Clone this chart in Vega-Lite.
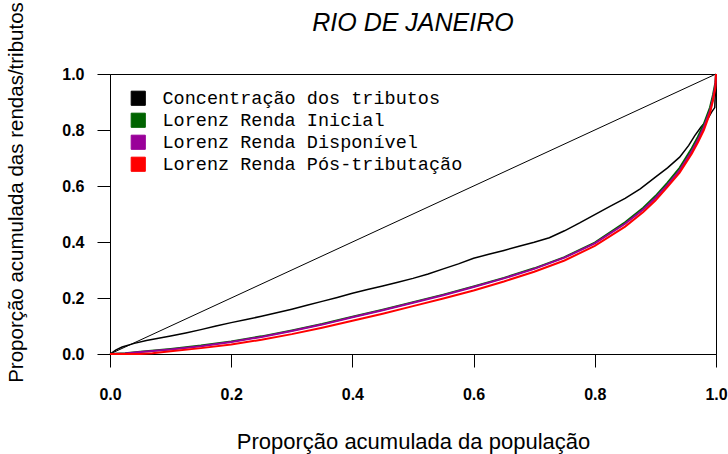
{
  "$schema": "https://vega.github.io/schema/vega-lite/v6.json",
  "width": 606,
  "height": 280,
  "autosize": {"type": "none"},
  "padding": {"left": 110, "top": 74, "right": 12, "bottom": 100},
  "background": "white",
  "config": {
    "view": {"stroke": "black", "strokeWidth": 1},
    "axis": {"grid": false}
  },
  "title": {
    "text": "RIO DE JANEIRO",
    "font": "Liberation Sans",
    "fontSize": 25,
    "fontStyle": "italic",
    "fontWeight": "normal",
    "color": "black",
    "frame": "group",
    "anchor": "middle",
    "offset": -34
  },
  "data": {
    "values": [
      {"serie": "Concentração dos tributos", "p": 0, "v": 0},
      {"serie": "Concentração dos tributos", "p": 0.01, "v": 0.015},
      {"serie": "Concentração dos tributos", "p": 0.02, "v": 0.025},
      {"serie": "Concentração dos tributos", "p": 0.04, "v": 0.038},
      {"serie": "Concentração dos tributos", "p": 0.06, "v": 0.048},
      {"serie": "Concentração dos tributos", "p": 0.08, "v": 0.056},
      {"serie": "Concentração dos tributos", "p": 0.1, "v": 0.064},
      {"serie": "Concentração dos tributos", "p": 0.125, "v": 0.075},
      {"serie": "Concentração dos tributos", "p": 0.15, "v": 0.087},
      {"serie": "Concentração dos tributos", "p": 0.175, "v": 0.1},
      {"serie": "Concentração dos tributos", "p": 0.2, "v": 0.112},
      {"serie": "Concentração dos tributos", "p": 0.225, "v": 0.123},
      {"serie": "Concentração dos tributos", "p": 0.25, "v": 0.135},
      {"serie": "Concentração dos tributos", "p": 0.275, "v": 0.147},
      {"serie": "Concentração dos tributos", "p": 0.3, "v": 0.16},
      {"serie": "Concentração dos tributos", "p": 0.325, "v": 0.174},
      {"serie": "Concentração dos tributos", "p": 0.35, "v": 0.188},
      {"serie": "Concentração dos tributos", "p": 0.375, "v": 0.202},
      {"serie": "Concentração dos tributos", "p": 0.4, "v": 0.217},
      {"serie": "Concentração dos tributos", "p": 0.425, "v": 0.23},
      {"serie": "Concentração dos tributos", "p": 0.45, "v": 0.243},
      {"serie": "Concentração dos tributos", "p": 0.475, "v": 0.256},
      {"serie": "Concentração dos tributos", "p": 0.5, "v": 0.27},
      {"serie": "Concentração dos tributos", "p": 0.525, "v": 0.286},
      {"serie": "Concentração dos tributos", "p": 0.55, "v": 0.304},
      {"serie": "Concentração dos tributos", "p": 0.575, "v": 0.322},
      {"serie": "Concentração dos tributos", "p": 0.6, "v": 0.342},
      {"serie": "Concentração dos tributos", "p": 0.625, "v": 0.356},
      {"serie": "Concentração dos tributos", "p": 0.65, "v": 0.37},
      {"serie": "Concentração dos tributos", "p": 0.675, "v": 0.385},
      {"serie": "Concentração dos tributos", "p": 0.7, "v": 0.399},
      {"serie": "Concentração dos tributos", "p": 0.725, "v": 0.415},
      {"serie": "Concentração dos tributos", "p": 0.75, "v": 0.44},
      {"serie": "Concentração dos tributos", "p": 0.775, "v": 0.468},
      {"serie": "Concentração dos tributos", "p": 0.8, "v": 0.498},
      {"serie": "Concentração dos tributos", "p": 0.825, "v": 0.527},
      {"serie": "Concentração dos tributos", "p": 0.85, "v": 0.556},
      {"serie": "Concentração dos tributos", "p": 0.875, "v": 0.59},
      {"serie": "Concentração dos tributos", "p": 0.9, "v": 0.632},
      {"serie": "Concentração dos tributos", "p": 0.92, "v": 0.665},
      {"serie": "Concentração dos tributos", "p": 0.94, "v": 0.703},
      {"serie": "Concentração dos tributos", "p": 0.955, "v": 0.745},
      {"serie": "Concentração dos tributos", "p": 0.965, "v": 0.78},
      {"serie": "Concentração dos tributos", "p": 0.975, "v": 0.81},
      {"serie": "Concentração dos tributos", "p": 0.985, "v": 0.835},
      {"serie": "Concentração dos tributos", "p": 0.993, "v": 0.865},
      {"serie": "Concentração dos tributos", "p": 0.998, "v": 0.88},
      {"serie": "Concentração dos tributos", "p": 1, "v": 1},

      {"serie": "Lorenz Renda Inicial", "p": 0, "v": 0},
      {"serie": "Lorenz Renda Inicial", "p": 0.025, "v": 0.003},
      {"serie": "Lorenz Renda Inicial", "p": 0.05, "v": 0.008},
      {"serie": "Lorenz Renda Inicial", "p": 0.1, "v": 0.018},
      {"serie": "Lorenz Renda Inicial", "p": 0.15, "v": 0.03},
      {"serie": "Lorenz Renda Inicial", "p": 0.2, "v": 0.045},
      {"serie": "Lorenz Renda Inicial", "p": 0.25, "v": 0.063},
      {"serie": "Lorenz Renda Inicial", "p": 0.3, "v": 0.084},
      {"serie": "Lorenz Renda Inicial", "p": 0.35, "v": 0.107},
      {"serie": "Lorenz Renda Inicial", "p": 0.4, "v": 0.133},
      {"serie": "Lorenz Renda Inicial", "p": 0.45, "v": 0.158},
      {"serie": "Lorenz Renda Inicial", "p": 0.5, "v": 0.185},
      {"serie": "Lorenz Renda Inicial", "p": 0.55, "v": 0.212},
      {"serie": "Lorenz Renda Inicial", "p": 0.6, "v": 0.241},
      {"serie": "Lorenz Renda Inicial", "p": 0.65, "v": 0.272},
      {"serie": "Lorenz Renda Inicial", "p": 0.7, "v": 0.306},
      {"serie": "Lorenz Renda Inicial", "p": 0.75, "v": 0.346},
      {"serie": "Lorenz Renda Inicial", "p": 0.8, "v": 0.398},
      {"serie": "Lorenz Renda Inicial", "p": 0.85, "v": 0.47},
      {"serie": "Lorenz Renda Inicial", "p": 0.88, "v": 0.522},
      {"serie": "Lorenz Renda Inicial", "p": 0.9, "v": 0.564},
      {"serie": "Lorenz Renda Inicial", "p": 0.92, "v": 0.612},
      {"serie": "Lorenz Renda Inicial", "p": 0.94, "v": 0.665},
      {"serie": "Lorenz Renda Inicial", "p": 0.96, "v": 0.735},
      {"serie": "Lorenz Renda Inicial", "p": 0.97, "v": 0.775},
      {"serie": "Lorenz Renda Inicial", "p": 0.98, "v": 0.822},
      {"serie": "Lorenz Renda Inicial", "p": 0.99, "v": 0.88},
      {"serie": "Lorenz Renda Inicial", "p": 0.995, "v": 0.925},
      {"serie": "Lorenz Renda Inicial", "p": 0.999, "v": 0.97},
      {"serie": "Lorenz Renda Inicial", "p": 1, "v": 1},

      {"serie": "Lorenz Renda Disponível", "p": 0, "v": 0},
      {"serie": "Lorenz Renda Disponível", "p": 0.025, "v": 0.002},
      {"serie": "Lorenz Renda Disponível", "p": 0.05, "v": 0.007},
      {"serie": "Lorenz Renda Disponível", "p": 0.1, "v": 0.016},
      {"serie": "Lorenz Renda Disponível", "p": 0.15, "v": 0.028},
      {"serie": "Lorenz Renda Disponível", "p": 0.2, "v": 0.043},
      {"serie": "Lorenz Renda Disponível", "p": 0.25, "v": 0.061},
      {"serie": "Lorenz Renda Disponível", "p": 0.3, "v": 0.082},
      {"serie": "Lorenz Renda Disponível", "p": 0.35, "v": 0.105},
      {"serie": "Lorenz Renda Disponível", "p": 0.4, "v": 0.131},
      {"serie": "Lorenz Renda Disponível", "p": 0.45, "v": 0.156},
      {"serie": "Lorenz Renda Disponível", "p": 0.5, "v": 0.183},
      {"serie": "Lorenz Renda Disponível", "p": 0.55, "v": 0.21},
      {"serie": "Lorenz Renda Disponível", "p": 0.6, "v": 0.239},
      {"serie": "Lorenz Renda Disponível", "p": 0.65, "v": 0.27},
      {"serie": "Lorenz Renda Disponível", "p": 0.7, "v": 0.304},
      {"serie": "Lorenz Renda Disponível", "p": 0.75, "v": 0.344},
      {"serie": "Lorenz Renda Disponível", "p": 0.8, "v": 0.395},
      {"serie": "Lorenz Renda Disponível", "p": 0.85, "v": 0.465},
      {"serie": "Lorenz Renda Disponível", "p": 0.88, "v": 0.516},
      {"serie": "Lorenz Renda Disponível", "p": 0.9, "v": 0.557},
      {"serie": "Lorenz Renda Disponível", "p": 0.92, "v": 0.604},
      {"serie": "Lorenz Renda Disponível", "p": 0.94, "v": 0.656},
      {"serie": "Lorenz Renda Disponível", "p": 0.96, "v": 0.724},
      {"serie": "Lorenz Renda Disponível", "p": 0.97, "v": 0.764},
      {"serie": "Lorenz Renda Disponível", "p": 0.98, "v": 0.81},
      {"serie": "Lorenz Renda Disponível", "p": 0.99, "v": 0.868},
      {"serie": "Lorenz Renda Disponível", "p": 0.995, "v": 0.912},
      {"serie": "Lorenz Renda Disponível", "p": 0.999, "v": 0.96},
      {"serie": "Lorenz Renda Disponível", "p": 1, "v": 1},

      {"serie": "Lorenz Renda Pós-tributação", "p": 0, "v": 0},
      {"serie": "Lorenz Renda Pós-tributação", "p": 0.05, "v": 0.0},
      {"serie": "Lorenz Renda Pós-tributação", "p": 0.07, "v": 0.003},
      {"serie": "Lorenz Renda Pós-tributação", "p": 0.1, "v": 0.01},
      {"serie": "Lorenz Renda Pós-tributação", "p": 0.15, "v": 0.021},
      {"serie": "Lorenz Renda Pós-tributação", "p": 0.2, "v": 0.034},
      {"serie": "Lorenz Renda Pós-tributação", "p": 0.25, "v": 0.051},
      {"serie": "Lorenz Renda Pós-tributação", "p": 0.3, "v": 0.071},
      {"serie": "Lorenz Renda Pós-tributação", "p": 0.35, "v": 0.094},
      {"serie": "Lorenz Renda Pós-tributação", "p": 0.4, "v": 0.119},
      {"serie": "Lorenz Renda Pós-tributação", "p": 0.45, "v": 0.144},
      {"serie": "Lorenz Renda Pós-tributação", "p": 0.5, "v": 0.171},
      {"serie": "Lorenz Renda Pós-tributação", "p": 0.55, "v": 0.198},
      {"serie": "Lorenz Renda Pós-tributação", "p": 0.6, "v": 0.227},
      {"serie": "Lorenz Renda Pós-tributação", "p": 0.65, "v": 0.259},
      {"serie": "Lorenz Renda Pós-tributação", "p": 0.7, "v": 0.294},
      {"serie": "Lorenz Renda Pós-tributação", "p": 0.75, "v": 0.334},
      {"serie": "Lorenz Renda Pós-tributação", "p": 0.8, "v": 0.386},
      {"serie": "Lorenz Renda Pós-tributação", "p": 0.85, "v": 0.455},
      {"serie": "Lorenz Renda Pós-tributação", "p": 0.88, "v": 0.507},
      {"serie": "Lorenz Renda Pós-tributação", "p": 0.9, "v": 0.548},
      {"serie": "Lorenz Renda Pós-tributação", "p": 0.92, "v": 0.597},
      {"serie": "Lorenz Renda Pós-tributação", "p": 0.94, "v": 0.648},
      {"serie": "Lorenz Renda Pós-tributação", "p": 0.96, "v": 0.715},
      {"serie": "Lorenz Renda Pós-tributação", "p": 0.97, "v": 0.755},
      {"serie": "Lorenz Renda Pós-tributação", "p": 0.98, "v": 0.8},
      {"serie": "Lorenz Renda Pós-tributação", "p": 0.99, "v": 0.86},
      {"serie": "Lorenz Renda Pós-tributação", "p": 0.995, "v": 0.905},
      {"serie": "Lorenz Renda Pós-tributação", "p": 0.999, "v": 0.95},
      {"serie": "Lorenz Renda Pós-tributação", "p": 1, "v": 1}
    ]
  },
  "encoding": {
    "x": {
      "field": "p",
      "type": "quantitative",
      "scale": {"domain": [0, 1], "nice": false},
      "axis": {
        "values": [0, 0.2, 0.4, 0.6, 0.8, 1],
        "format": ".1f",
        "tickSize": 13,
        "tickColor": "black",
        "domainColor": "black",
        "labelFont": "Liberation Sans",
        "labelFontWeight": "bold",
        "labelFontSize": 16,
        "labelColor": "black",
        "labelPadding": 19,
        "labelFlush": false,
        "labelOverlap": false,
        "labelBound": false,
        "title": "Proporção acumulada da população",
        "titleFont": "Liberation Sans",
        "titleFontSize": 22,
        "titleFontWeight": "normal",
        "titleColor": "black",
        "titleBaseline": "alphabetic",
        "titleY": 94
      }
    },
    "y": {
      "field": "v",
      "type": "quantitative",
      "scale": {"domain": [0, 1], "nice": false},
      "axis": {
        "values": [0, 0.2, 0.4, 0.6, 0.8, 1],
        "format": ".1f",
        "tickSize": 13,
        "tickColor": "black",
        "domainColor": "black",
        "labelFont": "Liberation Sans",
        "labelFontWeight": "bold",
        "labelFontSize": 16,
        "labelColor": "black",
        "labelPadding": 13,
        "labelFlush": false,
        "labelOverlap": false,
        "labelBound": false,
        "title": "Proporção acumulada das rendas/tributos",
        "titleFont": "Liberation Sans",
        "titleFontSize": 20.5,
        "titleFontWeight": "normal",
        "titleColor": "black",
        "titleAngle": -90,
        "titleAlign": "center",
        "titleBaseline": "alphabetic",
        "titleX": -88,
        "titleY": 118
      }
    }
  },
  "layer": [
    {
      "data": {"values": [{"p": 0, "v": 0}, {"p": 1, "v": 1}]},
      "mark": {"type": "line", "color": "black", "strokeWidth": 1}
    },
    {
      "transform": [{"filter": "datum.serie == 'Concentração dos tributos'"}],
      "mark": {"type": "line", "strokeWidth": 1.5},
      "encoding": {"color": {"field": "serie", "type": "nominal"}}
    },
    {
      "transform": [{"filter": "datum.serie == 'Lorenz Renda Inicial'"}],
      "mark": {"type": "line", "strokeWidth": 2},
      "encoding": {"color": {"field": "serie", "type": "nominal"}}
    },
    {
      "transform": [{"filter": "datum.serie == 'Lorenz Renda Disponível'"}],
      "mark": {"type": "line", "strokeWidth": 2},
      "encoding": {"color": {"field": "serie", "type": "nominal"}}
    },
    {
      "transform": [{"filter": "datum.serie == 'Lorenz Renda Pós-tributação'"}],
      "mark": {"type": "line", "strokeWidth": 2},
      "encoding": {
        "color": {
          "field": "serie",
          "type": "nominal",
          "scale": {
            "domain": ["Concentração dos tributos", "Lorenz Renda Inicial", "Lorenz Renda Disponível", "Lorenz Renda Pós-tributação"],
            "range": ["#000000", "#006400", "#990099", "#ff0000"]
          },
          "legend": {
            "orient": "none",
            "legendX": 19,
            "legendY": 15,
            "title": null,
            "padding": 0,
            "symbolType": "square",
            "symbolSize": 200,
            "labelFont": "Liberation Mono",
            "labelFontSize": 18.5,
            "labelColor": "black",
            "labelOffset": 15,
            "labelLimit": 600,
            "rowPadding": 3,
            "encode": {
              "symbols": {
                "update": {
                  "fill": {"scale": "color", "field": "value"},
                  "stroke": {"value": "black"},
                  "strokeWidth": {"value": 1},
                  "opacity": {"value": 1}
                }
              }
            }
          }
        }
      }
    }
  ]
}
